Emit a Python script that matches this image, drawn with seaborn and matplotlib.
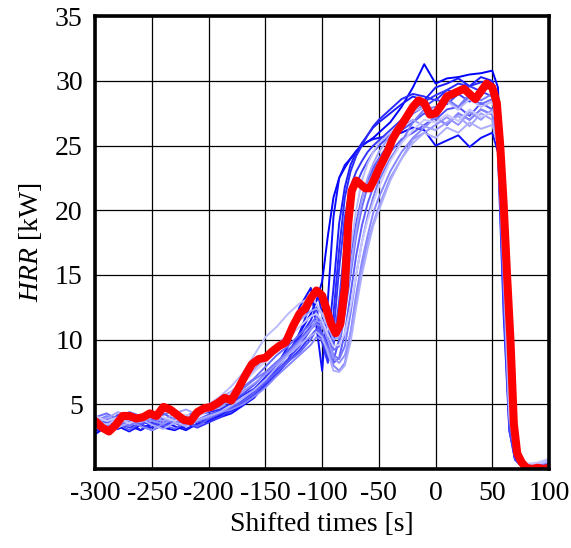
import numpy as np
import pandas as pd
import matplotlib
matplotlib.use("Agg")
import matplotlib.pyplot as plt
import seaborn as sns

# Shared sampling times (s) for the individual test runs
times = [-300, -290, -280, -270, -260, -250, -240, -230, -220, -210,
         -200, -190, -180, -170, -160, -150, -140, -130, -120, -110,
         -105, -100, -95, -90, -85, -80, -75, -70, -65, -60, -55,
         -50, -40, -30, -20, -10, 0, 10, 20, 30, 40, 50,
         55, 60, 65, 70, 75, 80, 90, 100]

# Individual runs, HRR in kW (ordered from darkest to lightest shade)
run_01 = [2.7, 3.3, 3.1, 3.5, 3.0, 3.6, 3.2, 3.0, 3.4, 3.7,
          3.9, 4.1, 4.5, 5.0, 5.6, 6.4, 7.3, 8.4, 10.5, 12.0,
          13.0, 14.5, 18.0, 21.0, 22.5, 23.3, 24.0, 24.5, 25.0, 25.3, 25.6,
          26.0, 26.8, 28.0, 29.5, 31.3, 29.8, 30.2, 30.3, 30.5, 30.6, 30.8,
          29.5, 18.0, 4.0, 1.0, 0.3, 0.2, 0.2, 0.4]
run_02 = [3.0, 3.6, 3.3, 2.9, 3.4, 3.2, 3.7, 3.3, 3.0, 3.5,
          3.7, 4.0, 4.3, 4.9, 5.5, 6.6, 8.0, 9.5, 12.5, 14.0,
          11.0, 7.6, 13.0, 19.5, 22.5, 23.5, 24.0, 24.6, 25.0, 25.3, 25.5,
          25.6, 25.8, 26.0, 26.4, 26.2, 25.0, 25.4, 25.8, 24.9, 25.6, 26.0,
          24.5, 12.0, 3.0, 0.8, 0.3, 0.2, 0.3, 0.5]
run_03 = [2.9, 3.4, 3.7, 3.3, 3.0, 3.5, 3.3, 3.6, 3.1, 3.5,
          3.8, 4.2, 4.6, 5.2, 5.9, 6.8, 7.8, 8.9, 10.5, 12.8,
          14.0, 12.0, 9.5, 14.0, 19.0, 21.8, 23.5, 24.5, 25.2, 25.8, 26.4,
          26.8, 27.5, 28.2, 28.8, 28.5, 29.5, 29.8, 30.2, 29.6, 30.3, 30.0,
          28.8, 17.0, 3.5, 0.8, 0.3, 0.2, 0.3, 0.5]
run_04 = [3.4, 3.9, 3.6, 4.1, 3.7, 3.4, 3.9, 3.6, 3.8, 4.2,
          4.4, 4.6, 5.1, 5.7, 6.2, 7.1, 8.0, 9.0, 10.2, 11.5,
          12.5, 10.0, 8.5, 12.0, 17.0, 21.0, 23.0, 24.2, 25.0, 25.8, 26.5,
          27.0, 27.8, 28.6, 29.0, 28.8, 28.5, 29.3, 29.8, 29.6, 29.9, 30.0,
          28.0, 16.0, 3.5, 0.8, 0.3, 0.2, 0.3, 0.5]
run_05 = [3.4, 3.0, 3.6, 3.2, 3.5, 3.0, 3.4, 3.8, 3.5, 3.2,
          3.6, 4.0, 4.6, 5.1, 5.7, 6.5, 7.4, 8.3, 9.2, 10.3,
          10.8, 9.8, 8.2, 10.5, 15.5, 19.5, 21.8, 23.0, 23.8, 24.5, 25.0,
          25.4, 26.2, 27.0, 27.8, 28.4, 28.9, 29.3, 29.0, 29.6, 29.2, 29.6,
          28.5, 21.0, 5.0, 1.0, 0.3, 0.2, 0.3, 0.5]
run_06 = [3.6, 3.2, 3.8, 3.4, 3.9, 3.5, 3.3, 3.7, 4.0, 3.8,
          4.2, 4.5, 4.7, 5.3, 6.0, 6.8, 7.6, 8.5, 9.5, 10.8,
          11.5, 10.5, 9.0, 9.5, 13.0, 17.5, 20.5, 22.0, 23.0, 23.8, 24.5,
          25.0, 25.8, 26.5, 27.5, 28.0, 28.6, 28.2, 29.0, 28.4, 29.2, 28.8,
          26.5, 14.0, 3.0, 0.7, 0.3, 0.2, 0.3, 0.4]
run_07 = [3.9, 3.5, 4.2, 3.7, 3.4, 3.9, 4.3, 3.8, 3.5, 4.1,
          4.5, 4.9, 5.4, 5.8, 6.5, 7.4, 8.2, 9.2, 10.0, 11.0,
          11.3, 10.2, 8.8, 8.4, 10.0, 13.0, 16.5, 19.0, 21.0, 22.3, 23.3,
          24.0, 25.3, 26.2, 26.8, 27.5, 27.0, 27.8, 28.0, 27.3, 28.3, 27.8,
          25.0, 13.0, 3.5, 1.0, 0.4, 0.2, 0.3, 0.5]
run_08 = [3.2, 3.7, 3.5, 3.0, 3.6, 3.9, 3.4, 3.1, 3.6, 3.3,
          3.9, 4.3, 4.8, 5.2, 5.9, 6.7, 7.5, 8.3, 9.0, 10.0,
          10.8, 10.5, 9.5, 8.2, 8.6, 10.5, 13.5, 16.5, 18.8, 20.5, 21.8,
          22.8, 24.5, 25.5, 26.0, 26.6, 27.2, 26.6, 27.5, 27.0, 27.8, 27.4,
          26.0, 18.0, 5.0, 1.2, 0.4, 0.2, 0.3, 0.5]
run_09 = [4.0, 4.3, 3.8, 4.4, 4.1, 3.7, 4.2, 4.5, 4.0, 4.4,
          4.8, 5.2, 5.7, 6.3, 7.0, 7.9, 8.8, 9.5, 10.4, 11.2,
          11.8, 11.4, 10.5, 9.2, 9.5, 12.0, 15.0, 18.0, 20.2, 21.8, 23.0,
          24.0, 25.3, 26.5, 27.5, 28.2, 27.5, 28.5, 27.8, 28.8, 28.2, 28.6,
          27.5, 20.0, 6.0, 1.5, 0.5, 0.2, 0.3, 0.5]
run_10 = [3.7, 4.1, 3.6, 3.3, 3.8, 4.2, 3.9, 3.5, 4.1, 4.5,
          4.7, 5.0, 5.6, 6.2, 6.9, 7.5, 8.3, 9.0, 9.9, 10.8,
          11.2, 11.0, 10.0, 8.8, 8.5, 9.5, 12.0, 15.0, 17.5, 19.5, 21.0,
          22.3, 24.0, 25.3, 26.8, 27.8, 28.0, 28.6, 28.0, 29.0, 28.5, 29.0,
          27.0, 17.0, 4.5, 1.2, 0.4, 0.2, 0.3, 0.5]
run_11 = [3.3, 3.0, 3.5, 3.8, 3.3, 3.0, 3.5, 3.9, 3.4, 3.7,
          4.0, 4.4, 4.6, 5.0, 5.6, 6.3, 7.2, 8.0, 8.8, 9.6,
          10.2, 10.0, 9.3, 8.0, 7.6, 8.2, 10.5, 13.5, 16.0, 18.0, 19.8,
          21.0, 23.0, 24.5, 25.6, 26.4, 27.2, 26.6, 27.5, 27.0, 27.8, 27.4,
          26.0, 19.0, 6.5, 1.8, 0.6, 0.3, 0.4, 0.6]
run_12 = [3.6, 4.0, 3.5, 3.8, 4.2, 3.7, 3.5, 4.0, 3.7, 4.1,
          4.5, 4.8, 5.3, 6.0, 6.6, 7.3, 8.1, 8.9, 9.8, 10.8,
          11.5, 11.2, 10.0, 8.6, 8.2, 8.8, 10.5, 13.0, 15.5, 17.5, 19.0,
          20.3, 22.5, 24.0, 25.5, 26.0, 26.6, 27.2, 26.6, 27.6, 27.0, 27.8,
          26.8, 23.0, 10.0, 2.5, 0.7, 0.3, 0.4, 0.7]
run_13 = [3.5, 3.9, 4.4, 4.0, 3.6, 4.0, 3.7, 4.3, 4.6, 4.2,
          5.0, 5.5, 6.0, 6.8, 7.7, 8.6, 9.6, 10.4, 11.5, 12.2,
          12.4, 12.0, 11.0, 10.0, 10.2, 12.5, 15.5, 18.5, 20.8, 22.5, 23.6,
          24.5, 25.8, 26.5, 27.0, 26.5, 26.2, 26.8, 27.3, 26.5, 27.5, 27.0,
          25.0, 15.0, 4.0, 1.2, 0.5, 0.3, 0.4, 0.6]
run_14 = [3.1, 3.5, 3.2, 3.6, 3.9, 3.4, 3.1, 3.6, 3.3, 3.8,
          4.1, 4.4, 4.9, 5.5, 6.1, 6.9, 7.9, 8.8, 9.6, 10.3,
          10.6, 10.2, 9.0, 7.6, 7.5, 8.0, 9.8, 12.5, 15.0, 17.0, 18.8,
          20.0, 22.3, 24.0, 25.2, 26.0, 25.6, 26.4, 26.0, 26.8, 26.3, 26.6,
          25.0, 20.0, 8.0, 2.0, 0.6, 0.3, 0.4, 0.6]
run_15 = [3.8, 3.4, 3.9, 4.3, 3.8, 4.1, 4.5, 4.2, 3.9, 4.4,
          5.0, 5.6, 6.4, 7.4, 8.8, 10.2, 11.0, 12.0, 12.8, 13.3,
          12.8, 12.0, 11.0, 10.5, 11.0, 13.5, 17.0, 20.0, 22.3, 23.6, 24.5,
          25.2, 26.0, 26.8, 27.6, 28.0, 27.6, 28.4, 27.8, 28.6, 28.0, 28.4,
          26.5, 16.0, 4.5, 1.5, 0.6, 0.3, 0.4, 0.6]
run_16 = [4.1, 3.7, 4.0, 3.5, 4.0, 4.4, 4.0, 3.7, 4.2, 4.0,
          4.6, 5.3, 5.9, 6.6, 7.5, 8.3, 9.2, 10.1, 11.0, 11.8,
          12.0, 11.5, 10.4, 9.5, 9.6, 10.5, 12.5, 15.0, 17.5, 19.2, 20.6,
          21.8, 23.8, 25.2, 26.2, 27.0, 26.8, 27.4, 26.9, 27.8, 27.2, 27.6,
          26.8, 22.0, 9.0, 2.5, 0.8, 0.4, 0.5, 0.8]

runs = [run_01, run_02, run_03, run_04, run_05, run_06, run_07, run_08,
        run_09, run_10, run_11, run_12, run_13, run_14, run_15, run_16]

# Mean curve (s, kW)
mean_times = [-300, -294, -288, -282, -276, -270, -264, -258, -252, -246,
              -240, -234, -228, -222, -216, -210, -204, -198, -192, -186,
              -180, -174, -168, -162, -156, -150, -144, -138, -132, -126,
              -120, -115, -110, -105, -100, -96, -92, -88, -84, -80,
              -77, -74, -70, -66, -62, -58, -54, -50, -46, -42,
              -38, -34, -30, -25, -20, -15, -10, -5, 0, 5,
              10, 15, 20, 25, 30, 35, 40, 45, 50, 54,
              57, 60, 63, 66, 69, 72, 76, 80, 85, 90, 95, 100]
mean_hrr = [3.7, 3.2, 2.9, 3.4, 4.1, 4.1, 3.9, 4.0, 4.3, 4.1,
            4.8, 4.6, 4.2, 3.8, 3.7, 4.4, 4.7, 4.8, 5.1, 5.5,
            5.3, 6.2, 7.2, 8.1, 8.5, 8.6, 9.1, 9.5, 9.8, 11.0,
            12.0, 12.4, 13.2, 13.8, 13.4, 12.3, 11.2, 10.5, 11.2, 14.0,
            19.0, 21.5, 22.3, 22.0, 21.7, 21.7, 22.4, 23.2, 23.9, 24.6,
            25.5, 26.1, 26.6, 27.3, 28.0, 28.5, 28.3, 27.4, 27.5, 28.1,
            28.8, 29.0, 29.2, 29.4, 29.0, 28.6, 29.2, 29.8, 29.5, 28.3,
            25.0, 20.5, 15.0, 10.0, 3.5, 1.2, 0.5, 0.1, 0.0, 0.1, 0.0, 0.1]

x_ticks = [-300, -250, -200, -150, -100, -50, 0, 50, 100]
y_ticks = [5, 10, 15, 20, 25, 30, 35]

sns.set_style("white")
plt.rcParams["font.family"] = ["Liberation Serif", "DejaVu Serif"]
plt.rcParams["mathtext.fontset"] = "custom"
plt.rcParams["mathtext.it"] = "Liberation Serif:italic"
plt.rcParams["mathtext.rm"] = "Liberation Serif"
plt.rcParams["lines.solid_joinstyle"] = "round"
plt.rcParams["lines.solid_capstyle"] = "round"

runs_df = pd.DataFrame({
    "time": np.tile(times, len(runs)),
    "hrr": np.concatenate(runs),
    "run": np.repeat([f"run {i + 1:02d}" for i in range(len(runs))], len(times)),
})
mean_df = pd.DataFrame({"time": mean_times, "hrr": mean_hrr})

palette = sns.blend_palette(["#0000ff", "#c8c8ff"], n_colors=len(runs))

fig = plt.figure(figsize=(5.71, 5.48), dpi=100)
ax = fig.add_axes([95.3 / 571, 1 - 469 / 548, (549 - 95.3) / 571, (469 - 16.3) / 548])

sns.lineplot(data=runs_df, x="time", y="hrr", hue="run", palette=palette,
             estimator=None, sort=False, linewidth=1.4, legend=False, ax=ax)
sns.lineplot(data=mean_df, x="time", y="hrr", color="#ff0000",
             estimator=None, sort=False, linewidth=5.8, ax=ax, zorder=5)

ax.set_xlim(-300, 100)
ax.set_ylim(0, 35)
ax.set_xticks(x_ticks)
ax.set_yticks(y_ticks)
ax.set_xticklabels([str(v) for v in x_ticks])
ax.grid(True, color="black", linewidth=0.9)
ax.set_axisbelow(True)
ax.tick_params(axis="both", length=0, labelsize=20, pad=9, colors="black")
for side in ["left", "right", "top", "bottom"]:
    ax.spines[side].set_visible(True)
    ax.spines[side].set_color("black")
    ax.spines[side].set_linewidth(2.6)
    ax.spines[side].set_zorder(10)

ax.set_xlabel("Shifted times [s]", fontsize=20, labelpad=4, color="black")
ax.set_ylabel(r"$\mathit{HRR}$ [kW]", fontsize=20, labelpad=8, color="black")

fig.savefig("out.png", dpi=100)
